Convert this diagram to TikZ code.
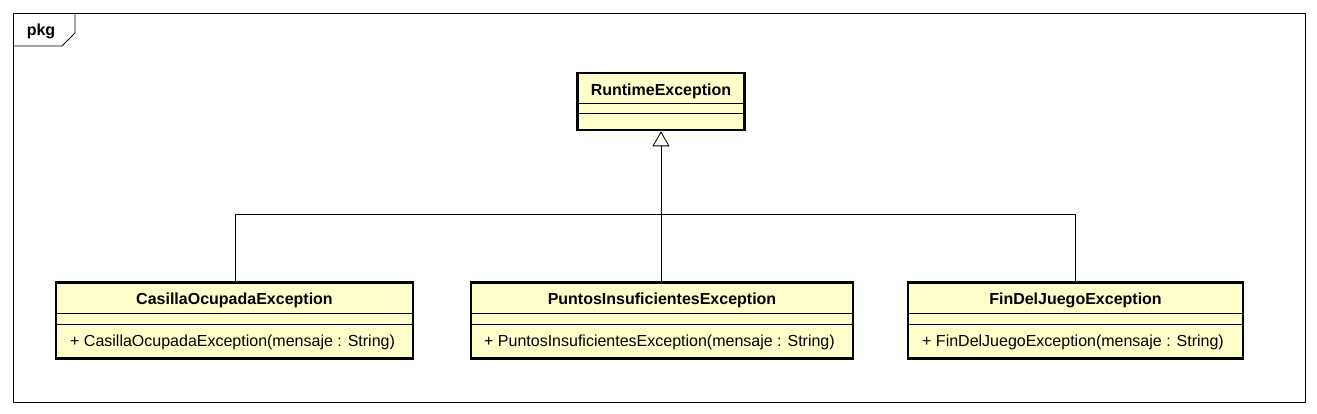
\documentclass[tikz,border=0pt]{standalone}
\usepackage{fontspec}
\setmainfont{Liberation Sans}
\usetikzlibrary{arrows.meta}
\definecolor{umlfill}{HTML}{FFFFCC}
\begin{document}
\begin{tikzpicture}[x=1pt,y=-1pt,
  cls/.style={draw, line width=2.6pt, fill=umlfill, inner sep=0pt},
  sep/.style={line width=0.8pt},
  ttl/.style={font=\bfseries\fontsize{16}{18}\selectfont, inner sep=0pt},
  mth/.style={font=\fontsize{16}{18}\selectfont, inner sep=0pt, anchor=west},
  conn/.style={line width=0.8pt},
  gen/.style={-{Triangle[open, length=15pt, width=17pt, line width=0.8pt]}}
]
\useasboundingbox (0,0) rectangle (1317,414);
% frame
\draw[line width=0.8pt] (13,13) rectangle (1305,402);
\draw[line width=0.8pt] (13,46) -- (62,46) -- (75,33) -- (75,13);
\node[font=\bfseries\fontsize{16}{18}\selectfont, inner sep=0pt] (pkg) at (41,31.5) {pkg};

% RuntimeException
\node[cls, minimum width=167pt, minimum height=57pt] (rt) at (661,101.5) {};
\draw[sep] (578,103) -- (744,103);
\draw[sep] (578,113.5) -- (744,113.5);
\node[ttl] (rtt) at (661,91) {RuntimeException};

% Casilla
\node[cls, minimum width=357pt, minimum height=76pt] (ca) at (234.5,320.5) {};
\draw[sep] (56,313) -- (413,313);
\draw[sep] (56,324) -- (413,324);
\node[ttl] (cat) at (234.5,300) {CasillaOcupadaException};
\node[mth] (cam) at (70,342) {+ CasillaOcupadaException(mensaje : String)};

% Puntos
\node[cls, minimum width=382pt, minimum height=76pt] (pu) at (662,320.5) {};
\draw[sep] (471,313) -- (853,313);
\draw[sep] (471,324) -- (853,324);
\node[ttl] (put) at (662,300) {PuntosInsuficientesException};
\node[mth] (pum) at (484,342) {+ PuntosInsuficientesException(mensaje : String)};

% FinDelJuego
\node[cls, minimum width=335pt, minimum height=76pt] (fj) at (1075.5,320.5) {};
\draw[sep] (908,313) -- (1243,313);
\draw[sep] (908,324) -- (1243,324);
\node[ttl] (fjt) at (1075.5,300) {FinDelJuegoException};
\node[mth] (fjm) at (922,342) {+ FinDelJuegoException(mensaje : String)};

% connectors
\coordinate (j) at (661,214);
\draw[conn] (ca.north -| 235,0) |- (j);
\draw[conn] (fj.north -| 1075,0) |- (j);
\draw[conn, gen] (pu.north -| 661,0) -- (rt.south -| 661,0);
\end{tikzpicture}
\end{document}
